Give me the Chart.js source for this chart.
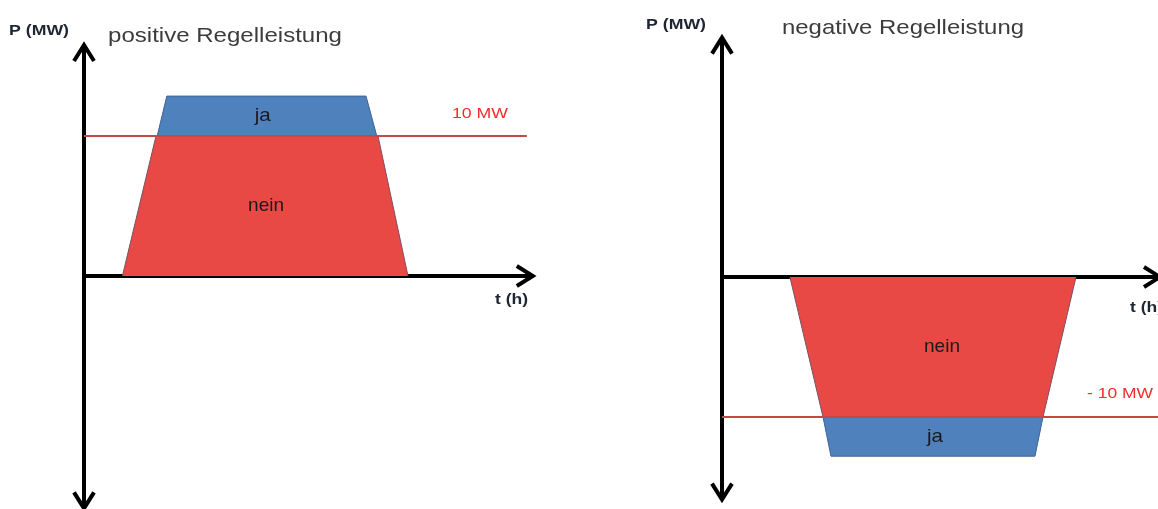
<!DOCTYPE html>
<html><head><meta charset="utf-8">
<script src="https://cdn.jsdelivr.net/npm/chart.js@4.4.0/dist/chart.umd.min.js"></script>
<style>
html,body{margin:0;padding:0;background:#fff;width:1158px;height:509px;overflow:hidden}
.wrap{position:absolute;top:0;width:579px;height:509px}
canvas{display:block}
</style></head><body>
<div class="wrap" style="left:0"><canvas id="c1" width="579" height="509"></canvas></div>
<div class="wrap" style="left:579px"><canvas id="c2" width="579" height="509"></canvas></div>
<script>
// ---------- data (t in h, P in MW) ----------
// positive Regelleistung
const posNeinT = [1.6, 3.0, 12.25, 13.5];
const posNeinP = [0, 10, 10, 0];
const posJaT   = [3.05, 3.45, 11.75, 12.2];
const posJaP   = [10, 12.85, 12.85, 10];
const posLimit = 10;
const posLimitT = [0, 18.45];
const posAxisT = [0, 18.7];
const posAxisP = [-16.6, 16.5];
// negative Regelleistung
const negNeinT = [2.83, 4.21, 13.375, 14.75];
const negNeinP = [0, -10, -10, 0];
const negJaT   = [4.21, 4.54, 13.04, 13.375];
const negJaP   = [-10, -12.8, -12.8, -10];
const negLimit = -10;
const negLimitT = [0, 18.3];
const negAxisT = [0, 18.25];
const negAxisP = [-15.9, 17.1];
// texts
const labelsPos = {title:'positive Regelleistung', yAxis:'P (MW)', xAxis:'t (h)', limit:'10 MW', ja:'ja', nein:'nein'};
const labelsNeg = {title:'negative Regelleistung', yAxis:'P (MW)', xAxis:'t (h)', limit:'- 10 MW', ja:'ja', nein:'nein'};

const pts = (T, P) => T.map((t, i) => ({x: t, y: P[i]}));
const RED = 'rgb(232,73,68)';
const BLUE = 'rgb(79,129,189)';

function drawStretched(ctx, text, x, y, font, color, targetW, baseline) {
  ctx.save();
  ctx.font = font;
  ctx.fillStyle = color;
  ctx.textAlign = 'left';
  ctx.textBaseline = baseline || 'middle';
  const w = ctx.measureText(text).width;
  const sx = targetW ? targetW / w : 1;
  ctx.translate(x, y);
  ctx.scale(sx, 1);
  ctx.fillText(text, 0, 0);
  ctx.restore();
}

function arrowHead(ctx, x, y, dx, dy) {
  // dx,dy unit direction of arrow
  const back = 16, side = 10;
  const px = -dy, py = dx;
  ctx.beginPath();
  ctx.moveTo(x - dx * back + px * side, y - dy * back + py * side);
  ctx.lineTo(x, y);
  ctx.lineTo(x - dx * back - px * side, y - dy * back - py * side);
  ctx.stroke();
}

const axesPlugin = {
  id: 'axesArrows',
  beforeDatasetsDraw(chart, args, opts) {
    const ctx = chart.ctx, xs = chart.scales.x, ys = chart.scales.y;
    const x0 = xs.getPixelForValue(0), y0 = ys.getPixelForValue(0);
    const yTop = ys.getPixelForValue(opts.p[1]), yBot = ys.getPixelForValue(opts.p[0]);
    const xEnd = xs.getPixelForValue(opts.t[1]);
    ctx.save();
    ctx.strokeStyle = '#000';
    ctx.lineWidth = 4;
    ctx.lineJoin = 'miter';
    ctx.lineCap = 'butt';
    ctx.beginPath();
    ctx.moveTo(x0, yTop + 2); ctx.lineTo(x0, yBot - 2);
    ctx.moveTo(x0, y0); ctx.lineTo(xEnd - 2, y0);
    ctx.stroke();
    arrowHead(ctx, x0, yTop, 0, -1);
    arrowHead(ctx, x0, yBot, 0, 1);
    arrowHead(ctx, xEnd, y0, 1, 0);
    ctx.restore();
  }
};

const textPlugin = {
  id: 'texts',
  afterDraw(chart, args, opts) {
    const ctx = chart.ctx, xs = chart.scales.x, ys = chart.scales.y;
    const L = opts.labels;
    const F = '"Liberation Sans", Arial, sans-serif';
    drawStretched(ctx, L.yAxis, opts.yAxisPos[0], opts.yAxisPos[1], 'bold 15px ' + F, '#1e2533', 60);
    drawStretched(ctx, L.title, opts.titlePos[0], opts.titlePos[1], '21px ' + F, '#3c3c3c', opts.titleW, 'alphabetic');
    drawStretched(ctx, L.xAxis, opts.xAxisPos[0], opts.xAxisPos[1], 'bold 14px ' + F, '#1e2533', 33);
    drawStretched(ctx, L.limit, opts.limitPos[0], opts.limitPos[1], '15px ' + F, '#f22c2c', opts.limitW);
    // ja / nein centered on the shapes
    const shapes = [[opts.nein, L.nein, 36], [opts.ja, L.ja, 16]];
    shapes.forEach(([s, txt, w]) => {
      const cx = s.T.reduce((a, b) => a + b, 0) / s.T.length;
      const cy = (Math.min(...s.P) + Math.max(...s.P)) / 2;
      const px = xs.getPixelForValue(cx) + (s.dx || 0), py = ys.getPixelForValue(cy);
      drawStretched(ctx, txt, px - w / 2, py, '19px ' + F, '#1a1a1a', w);
    });
  }
};

function makeChart(id, cfg) {
  const x0px = cfg.originPx[0], y0px = cfg.originPx[1];
  const W = 579, H = 509, kx = 24, ky = 14;
  return new Chart(document.getElementById(id), {
    type: 'line',
    data: {
      datasets: [
        {data: pts(cfg.limitT, cfg.limitT.map(() => cfg.limit)), borderColor: 'rgb(196,72,68)', borderWidth: 2, fill: false, order: 0},
        {data: pts(cfg.jaT, cfg.jaP), backgroundColor: BLUE, borderColor: 'rgb(60,100,150)', borderWidth: 1, fill: {value: cfg.limit}, order: 1},
        {data: pts(cfg.neinT, cfg.neinP), backgroundColor: RED, borderColor: 'rgb(120,80,100)', borderWidth: 1, fill: 'origin', order: 2}
      ]
    },
    options: {
      responsive: false, animation: false, devicePixelRatio: 1,
      layout: {padding: 0},
      elements: {point: {radius: 0, hoverRadius: 0}, line: {tension: 0}},
      scales: {
        x: {type: 'linear', display: false, min: -x0px / kx, max: (W - x0px) / kx},
        y: {type: 'linear', display: false, min: -(H - y0px) / ky, max: y0px / ky}
      },
      plugins: {
        legend: {display: false}, tooltip: {enabled: false},
        axesArrows: {t: cfg.axisT, p: cfg.axisP},
        texts: cfg.texts
      }
    },
    plugins: [axesPlugin, textPlugin]
  });
}

makeChart('c1', {
  originPx: [84, 276],
  neinT: posNeinT, neinP: posNeinP, jaT: posJaT, jaP: posJaP,
  limit: posLimit, limitT: posLimitT, axisT: posAxisT, axisP: posAxisP,
  texts: {labels: labelsPos, yAxisPos: [9, 31], titlePos: [108, 42], titleW: 234,
          xAxisPos: [495, 300], limitPos: [452, 114], limitW: 56,
          nein: {T: posNeinT, P: posNeinP}, ja: {T: posJaT, P: posJaP, dx: -4}}
});
makeChart('c2', {
  originPx: [143, 277],
  neinT: negNeinT, neinP: negNeinP, jaT: negJaT, jaP: negJaP,
  limit: negLimit, limitT: negLimitT, axisT: negAxisT, axisP: negAxisP,
  texts: {labels: labelsNeg, yAxisPos: [67, 25], titlePos: [203, 34], titleW: 242,
          xAxisPos: [551, 308], limitPos: [508, 394], limitW: 66,
          nein: {T: negNeinT, P: negNeinP, dx: 9}, ja: {T: negJaT, P: negJaP, dx: 2}}
});
</script>
</body></html>
